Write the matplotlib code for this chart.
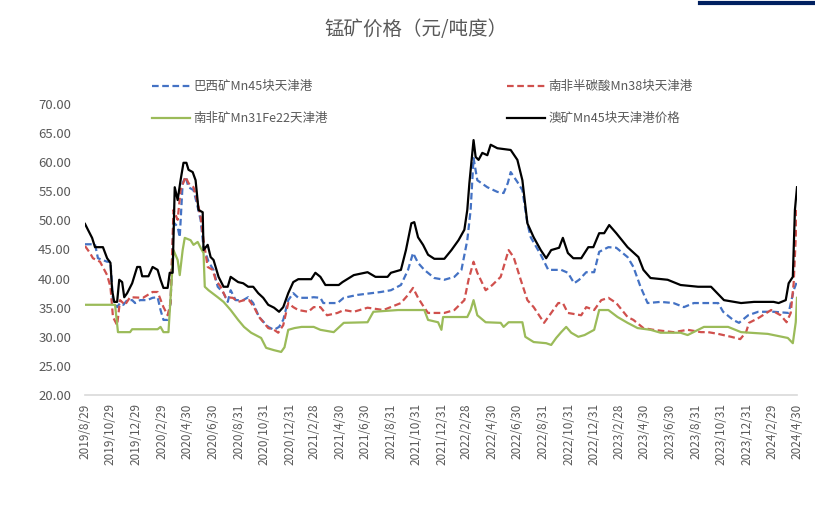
import matplotlib
matplotlib.use("Agg")
import matplotlib.pyplot as plt
import pandas as pd
from matplotlib.lines import Line2D

plt.rcParams['font.family'] = ['Noto Sans CJK SC', 'DejaVu Sans']

# 澳矿Mn45块天津港价格
aus_dates = [
    "2019-08-29", "2019-09-05", "2019-09-15", "2019-09-22", "2019-10-11", "2019-10-21", "2019-10-29",
    "2019-11-02", "2019-11-07", "2019-11-14", "2019-11-19", "2019-11-26", "2019-12-01", "2019-12-08",
    "2019-12-20", "2020-01-01", "2020-01-08", "2020-01-13", "2020-01-28", "2020-02-07", "2020-02-19",
    "2020-02-26", "2020-03-04", "2020-03-14", "2020-03-19", "2020-03-26", "2020-03-31", "2020-04-07",
    "2020-04-14", "2020-04-21", "2020-04-28", "2020-05-03", "2020-05-13", "2020-05-20", "2020-05-27",
    "2020-06-06", "2020-06-08", "2020-06-18", "2020-06-25", "2020-07-02", "2020-07-14", "2020-07-26",
    "2020-08-05", "2020-08-12", "2020-08-30", "2020-09-11", "2020-09-23", "2020-10-05", "2020-10-17",
    "2020-10-29", "2020-11-10", "2020-11-24", "2020-12-06", "2020-12-16", "2020-12-28", "2021-01-09",
    "2021-01-21", "2021-02-21", "2021-03-03", "2021-03-15", "2021-03-27", "2021-04-28", "2021-05-07",
    "2021-06-03", "2021-07-06", "2021-07-25", "2021-08-23", "2021-08-31", "2021-09-24", "2021-10-06",
    "2021-10-19", "2021-10-26", "2021-11-04", "2021-11-16", "2021-11-28", "2021-12-13", "2022-01-06",
    "2022-01-23", "2022-02-09", "2022-02-23", "2022-03-02", "2022-03-07", "2022-03-17", "2022-03-22",
    "2022-03-29", "2022-04-07", "2022-04-19", "2022-04-27", "2022-05-13", "2022-06-14", "2022-06-30",
    "2022-07-12", "2022-07-24", "2022-08-08", "2022-08-25", "2022-09-07", "2022-09-19", "2022-10-08",
    "2022-10-17", "2022-10-29", "2022-11-11", "2022-11-30", "2022-12-17", "2022-12-29", "2023-01-12",
    "2023-01-24", "2023-02-05", "2023-02-22", "2023-03-21", "2023-04-16", "2023-04-28", "2023-05-15",
    "2023-06-25", "2023-07-26", "2023-09-06", "2023-10-07", "2023-11-07", "2023-12-18", "2024-01-18",
    "2024-03-05", "2024-03-17", "2024-04-03", "2024-04-10", "2024-04-20", "2024-04-25", "2024-04-30",
]
aus_values = [
    49.4, 48.4, 47.0, 45.4, 45.4, 43.5, 42.7,
    38.0, 36.0, 36.0, 39.8, 39.4, 36.8, 37.5,
    39.2, 42.0, 42.0, 40.4, 40.4, 42.0, 41.5,
    39.8, 38.4, 38.4, 41.0, 41.0, 55.7, 53.5,
    56.9, 59.9, 59.9, 58.7, 58.3, 56.9, 51.8,
    51.4, 44.9, 45.8, 43.7, 43.2, 40.3, 38.6,
    38.6, 40.3, 39.4, 39.2, 38.6, 38.6, 37.5,
    36.7, 35.5, 35.0, 34.3, 35.1, 37.5, 39.4,
    39.9, 39.9, 41.0, 40.3, 38.9, 38.9, 39.4,
    40.6, 41.1, 40.3, 40.3, 41.0, 41.5, 44.9,
    49.5, 49.7, 47.1, 45.8, 44.1, 43.4, 43.4,
    44.9, 46.6, 48.4, 51.8, 56.4, 63.8, 60.9,
    60.4, 61.6, 61.2, 63.0, 62.4, 62.1, 60.4,
    56.9, 49.5, 47.1, 44.9, 43.5, 44.9, 45.3,
    47.0, 44.4, 43.5, 43.5, 45.4, 45.4, 47.8,
    47.8, 49.2, 47.8, 45.4, 43.7, 41.5, 40.1,
    39.8, 38.9, 38.6, 38.6, 36.3, 35.8, 36.0,
    36.0, 35.8, 36.3, 39.2, 40.3, 51.8, 55.7,
]

# 巴西矿Mn45块天津港
bra_dates = [
    "2019-08-29", "2019-09-22", "2019-09-29", "2019-10-21", "2019-10-29", "2019-11-04", "2019-11-14",
    "2019-11-21", "2019-11-29", "2019-12-08", "2019-12-20", "2019-12-27", "2020-01-08", "2020-01-25",
    "2020-02-07", "2020-02-19", "2020-02-26", "2020-03-04", "2020-03-14", "2020-03-21", "2020-03-28",
    "2020-04-07", "2020-04-12", "2020-04-19", "2020-04-26", "2020-05-03", "2020-05-15", "2020-05-25",
    "2020-06-01", "2020-06-08", "2020-06-20", "2020-07-02", "2020-07-12", "2020-07-26", "2020-08-05",
    "2020-08-12", "2020-08-24", "2020-09-11", "2020-09-23", "2020-10-05", "2020-10-19", "2020-11-10",
    "2020-11-24", "2020-12-06", "2020-12-16", "2020-12-28", "2021-01-09", "2021-01-21", "2021-02-14",
    "2021-02-27", "2021-03-15", "2021-03-22", "2021-04-25", "2021-05-10", "2021-06-12", "2021-08-07",
    "2021-08-31", "2021-09-24", "2021-10-11", "2021-10-23", "2021-11-04", "2021-11-19", "2021-12-13",
    "2022-01-06", "2022-01-30", "2022-02-16", "2022-03-02", "2022-03-10", "2022-03-17", "2022-03-26",
    "2022-04-19", "2022-05-13", "2022-05-28", "2022-06-07", "2022-06-14", "2022-06-30", "2022-07-12",
    "2022-07-24", "2022-08-01", "2022-08-25", "2022-09-12", "2022-10-13", "2022-10-29", "2022-11-13",
    "2022-11-25", "2022-12-12", "2022-12-31", "2023-01-12", "2023-02-03", "2023-02-22", "2023-03-21",
    "2023-04-04", "2023-04-21", "2023-05-08", "2023-06-08", "2023-07-09", "2023-08-03", "2023-08-27",
    "2023-10-24", "2023-11-05", "2023-11-29", "2023-12-13", "2024-01-04", "2024-01-28", "2024-03-05",
    "2024-04-10", "2024-04-22", "2024-04-30",
]
bra_values = [
    45.9, 45.9, 43.5, 42.9, 42.9, 36.3, 35.1,
    35.8, 35.5, 36.3, 36.3, 35.8, 36.3, 36.3,
    36.7, 36.8, 34.6, 32.9, 32.9, 35.8, 49.7,
    48.9, 47.1, 56.4, 57.5, 55.7, 55.2, 52.3,
    50.1, 45.4, 42.9, 41.5, 38.6, 37.5, 36.0,
    38.0, 36.3, 36.3, 36.8, 35.8, 33.4, 31.7,
    31.2, 31.7, 32.9, 36.3, 37.5, 36.7, 36.7,
    36.8, 36.7, 35.8, 35.8, 36.7, 37.2, 37.7,
    38.0, 38.9, 41.5, 44.4, 42.7, 41.5, 40.1,
    39.8, 40.3, 41.5, 46.6, 51.8, 60.7, 56.9,
    55.7, 54.9, 54.7, 56.4, 58.3, 56.6, 55.2,
    49.5, 47.1, 44.1, 41.5, 41.5, 41.0, 39.2,
    39.8, 41.1, 41.1, 44.6, 45.4, 45.3, 43.7,
    42.0, 38.6, 35.8, 36.0, 35.8, 35.1, 35.8,
    35.8, 34.3, 32.9, 32.4, 33.7, 34.3, 34.3,
    34.1, 38.0, 39.5,
]

# 南非半碳酸Mn38块天津港
sa38_dates = [
    "2019-08-29", "2019-09-10", "2019-09-17", "2019-10-04", "2019-10-21", "2019-10-29", "2019-11-04",
    "2019-11-14", "2019-11-21", "2019-12-03", "2019-12-15", "2020-01-15", "2020-02-07", "2020-02-19",
    "2020-03-04", "2020-03-14", "2020-03-21", "2020-03-28", "2020-04-07", "2020-04-14", "2020-04-26",
    "2020-05-03", "2020-05-15", "2020-05-25", "2020-06-01", "2020-06-08", "2020-06-18", "2020-06-30",
    "2020-07-07", "2020-07-19", "2020-07-31", "2020-08-17", "2020-08-30", "2020-09-13", "2020-09-25",
    "2020-10-07", "2020-10-19", "2020-11-10", "2020-11-24", "2020-12-04", "2020-12-16", "2020-12-28",
    "2021-01-09", "2021-01-21", "2021-02-14", "2021-02-27", "2021-03-15", "2021-03-31", "2021-04-25",
    "2021-05-10", "2021-06-03", "2021-07-06", "2021-08-13", "2021-09-24", "2021-10-11", "2021-10-23",
    "2021-11-04", "2021-11-19", "2021-11-28", "2022-01-06", "2022-01-30", "2022-02-23", "2022-03-05",
    "2022-03-17", "2022-03-26", "2022-04-15", "2022-05-01", "2022-05-21", "2022-06-09", "2022-06-21",
    "2022-07-08", "2022-07-24", "2022-08-08", "2022-09-02", "2022-09-19", "2022-10-06", "2022-10-17",
    "2022-10-29", "2022-11-30", "2022-12-12", "2022-12-31", "2023-01-17", "2023-02-03", "2023-02-22",
    "2023-03-21", "2023-04-04", "2023-04-28", "2023-05-22", "2023-07-09", "2023-08-12", "2023-09-13",
    "2023-09-30", "2023-10-24", "2023-11-24", "2023-12-16", "2023-12-30", "2024-01-06", "2024-01-28",
    "2024-02-28", "2024-03-22", "2024-04-05", "2024-04-15", "2024-04-22", "2024-04-30",
]
sa38_values = [
    45.6, 44.4, 43.5, 42.9, 40.6, 38.6, 33.4,
    32.0, 36.3, 35.5, 36.8, 36.7, 37.7, 37.7,
    35.1, 33.7, 35.8, 51.8, 50.1, 55.2, 57.5,
    56.4, 55.7, 53.0, 50.6, 46.6, 42.0, 41.5,
    39.8, 38.6, 36.8, 36.7, 36.0, 36.3, 36.3,
    35.1, 33.4, 31.5, 31.2, 30.7, 32.0, 35.8,
    35.1, 34.6, 34.3, 35.1, 35.1, 33.7, 34.1,
    34.6, 34.3, 35.0, 34.6, 35.8, 37.2, 38.4,
    36.7, 35.0, 34.1, 34.1, 34.6, 36.3, 39.8,
    42.9, 41.0, 38.0, 38.9, 40.3, 44.9, 43.7,
    39.8, 36.3, 35.1, 32.4, 34.1, 35.8, 35.8,
    34.1, 33.7, 35.1, 34.6, 36.3, 36.7, 35.8,
    33.4, 32.9, 31.5, 31.2, 30.8, 31.2, 30.8,
    30.8, 30.5, 30.0, 29.6, 30.8, 32.4, 33.2,
    34.6, 33.7, 32.5, 34.1, 39.2, 51.8,
]

# 南非矿Mn31Fe22天津港
sa31_dates = [
    "2019-08-29", "2019-11-09", "2019-11-16", "2019-12-15", "2019-12-20", "2020-02-19", "2020-02-26",
    "2020-03-04", "2020-03-16", "2020-03-28", "2020-04-07", "2020-04-12", "2020-04-19", "2020-04-24",
    "2020-05-08", "2020-05-15", "2020-05-25", "2020-06-01", "2020-06-08", "2020-06-11", "2020-06-20",
    "2020-07-12", "2020-07-26", "2020-08-12", "2020-08-30", "2020-09-13", "2020-09-30", "2020-10-24",
    "2020-11-05", "2020-11-24", "2020-12-11", "2020-12-19", "2020-12-28", "2021-01-12", "2021-01-29",
    "2021-02-27", "2021-03-15", "2021-04-16", "2021-05-10", "2021-07-06", "2021-07-20", "2021-09-17",
    "2021-11-19", "2021-11-28", "2021-12-22", "2021-12-30", "2022-01-03", "2022-03-02", "2022-03-10",
    "2022-03-17", "2022-03-26", "2022-04-15", "2022-05-21", "2022-05-28", "2022-06-09", "2022-07-12",
    "2022-07-19", "2022-08-08", "2022-09-07", "2022-09-19", "2022-10-01", "2022-10-13", "2022-10-25",
    "2022-11-06", "2022-11-23", "2022-12-08", "2022-12-31", "2023-01-12", "2023-02-03", "2023-02-25",
    "2023-03-21", "2023-04-14", "2023-05-15", "2023-06-08", "2023-07-26", "2023-08-12", "2023-09-20",
    "2023-11-17", "2023-12-18", "2024-02-20", "2024-04-08", "2024-04-20", "2024-04-27", "2024-04-30",
]
sa31_values = [
    35.5, 35.5, 30.8, 30.8, 31.3, 31.3, 31.7,
    30.8, 30.8, 44.9, 43.2, 40.6, 44.9, 47.0,
    46.6, 45.8, 46.3, 45.3, 44.4, 38.6, 38.0,
    36.8, 36.0, 34.6, 32.9, 31.7, 30.7, 29.8,
    28.1, 27.7, 27.4, 28.2, 31.2, 31.5, 31.7,
    31.7, 31.2, 30.8, 32.4, 32.5, 34.3, 34.6,
    34.6, 32.9, 32.5, 31.2, 33.4, 33.4, 34.6,
    36.3, 33.7, 32.5, 32.4, 31.7, 32.5, 32.5,
    30.0, 29.1, 28.9, 28.6, 29.8, 30.8, 31.7,
    30.7, 30.0, 30.3, 31.2, 34.6, 34.6, 33.4,
    32.4, 31.5, 31.2, 30.7, 30.7, 30.3, 31.7,
    31.7, 30.8, 30.5, 29.8, 28.9, 32.5, 36.7,
]

tick_dates = [
    "2019-08-29", "2019-10-29", "2019-12-29", "2020-02-29", "2020-04-30", "2020-06-30", "2020-08-31",
    "2020-10-31", "2020-12-31", "2021-02-28", "2021-04-30", "2021-06-30", "2021-08-31", "2021-10-31",
    "2021-12-31", "2022-02-28", "2022-04-30", "2022-06-30", "2022-08-31", "2022-10-31", "2022-12-31",
    "2023-02-28", "2023-04-30", "2023-06-30", "2023-08-31", "2023-10-31", "2023-12-31", "2024-02-29",
    "2024-04-30",
]

series = [
    ("巴西矿Mn45块天津港", bra_dates, bra_values, "#4472C4", (0, (3, 1.6))),
    ("南非半碳酸Mn38块天津港", sa38_dates, sa38_values, "#D0504D", (0, (3, 1.6))),
    ("南非矿Mn31Fe22天津港", sa31_dates, sa31_values, "#9BBB59", "-"),
    ("澳矿Mn45块天津港价格", aus_dates, aus_values, "#000000", "-"),
]

fig = plt.figure(figsize=(8.15, 5.08), dpi=100)
ax = fig.add_axes([85 / 815, 1 - 395 / 508, (797 - 85) / 815, (395 - 104) / 508])

handles = {}
for name, d, v, color, ls in series:
    line, = ax.plot(pd.to_datetime(d), v, color=color, linestyle=ls, linewidth=1.6)
    handles[name] = line

ax.set_ylim(20, 70)
ax.set_yticks(range(20, 71, 5))
ax.set_yticklabels([f"{t:.2f}" for t in range(20, 71, 5)], fontsize=9.5, color="#595959")
ticks = pd.to_datetime(tick_dates)
ax.set_xlim(ticks[0], ticks[-1])
ax.set_xticks(ticks)
ax.set_xticklabels([f"{t.year}/{t.month}/{t.day}" for t in ticks], rotation=90,
                   fontsize=8.5, color="#595959")
ax.tick_params(length=0)
ax.tick_params(axis="y", pad=10)
ax.tick_params(axis="x", pad=6)
for s in ["top", "right", "left"]:
    ax.spines[s].set_visible(False)
ax.spines["bottom"].set_color("#D9D9D9")
ax.spines["bottom"].set_linewidth(1.2)

fig.text(0.51, 1 - 29 / 508, "锰矿价格（元/吨度）", ha="center", va="center",
         fontsize=14, color="#595959")

leg_kw = dict(frameon=False, fontsize=9, handlelength=3.0, labelspacing=1.5,
              handletextpad=0.3, labelcolor="#595959", borderpad=0, loc="upper left")
names = [s[0] for s in series]
fig.legend([handles[names[0]], handles[names[2]]], [names[0], names[2]],
           bbox_to_anchor=(146 / 815, 1 - 74 / 508), **leg_kw)
fig.legend([handles[names[1]], handles[names[3]]], [names[1], names[3]],
           bbox_to_anchor=(501 / 815, 1 - 74 / 508), **leg_kw)

fig.add_artist(Line2D([700 / 815, 1.0], [1 - 3 / 508, 1 - 3 / 508], color="#002060",
                      linewidth=3, transform=fig.transFigure))

fig.savefig("out.png", dpi=100)
